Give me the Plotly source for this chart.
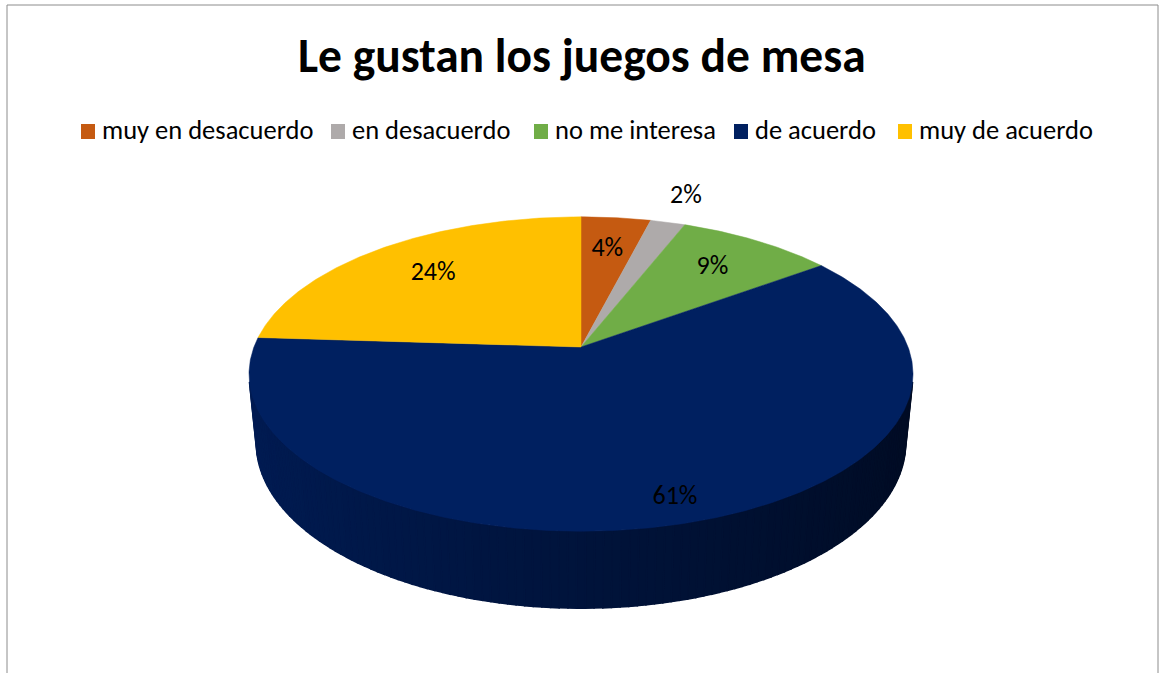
import numpy as np
import plotly.graph_objects as go

# Survey answers and their shares (%)
categories = ["muy en desacuerdo", "en desacuerdo", "no me interesa", "de acuerdo", "muy de acuerdo"]
percentages = [4, 2, 9, 61, 24]
colors = ["#C55A11", "#AEAAAA", "#70AD47", "#002060", "#FFC000"]
title_text = "Le gustan los juegos de mesa"

W, H = 1162, 673
FONT = "Carlito, Lato, sans-serif"

# Perspective view of the pie disc (screen pixels on the axes)
CX, CY = 581, 347          # projected disc centre
TILT = np.radians(27.8)    # camera elevation
DIST = 5.14                # camera distance in disc radii
FOCAL = 1681               # focal length in px
THICK = 0.24               # disc thickness in radii

# radial position of each percentage label (fraction of radius)
label_radius = [0.72, 1.25, 0.72, 0.88, 0.72]


def project(phi_deg, r=1.0, y=0.0):
    """Angle clockwise from the far edge -> screen position."""
    phi = np.radians(phi_deg)
    u = r * np.sin(phi)
    v = r * np.cos(phi)
    depth = DIST - y * np.sin(TILT) + v * np.cos(TILT)
    ycam = v * np.sin(TILT) + y * np.cos(TILT)
    return CX + FOCAL * u / depth, CY - FOCAL * ycam / depth


def shade(hex_color, f):
    h = hex_color.lstrip("#")
    r, g, b = (int(h[i:i + 2], 16) for i in (0, 2, 4))
    return f"rgb({int(r * f)},{int(g * f)},{int(b * f)})"


def side_factor(angle):
    # light from the left: the right-hand wall is darkest
    return 0.62 - 0.25 * np.sin(np.radians(angle))


total = sum(percentages)
bounds = np.concatenate([[0], np.cumsum(percentages) / total * 360.0])

fig = go.Figure()

# ---- visible side wall (front-facing part of the cylinder) ----
lim = np.degrees(np.arccos(-1.0 / (DIST * np.cos(TILT))))
side_angles = np.linspace(lim, 360 - lim, 120)
side_angles = np.unique(np.concatenate([side_angles,
                                        [b for b in bounds if lim < b < 360 - lim]]))

# one solid underlay per slice so the gradient strips leave no gaps
for k, (a0, a1) in enumerate(zip(bounds[:-1], bounds[1:])):
    s0, s1 = max(a0, lim), min(a1, 360 - lim)
    if s1 <= s0:
        continue
    arc = np.linspace(s0, s1, 200)
    xt, yt = project(arc)
    xb, yb = project(arc[::-1], y=-THICK)
    col = shade(colors[k], side_factor(0.5 * (s0 + s1)))
    fig.add_trace(go.Scatter(
        x=np.concatenate([xt, xb, xt[:1]]), y=np.concatenate([yt, yb, yt[:1]]),
        mode="lines", fill="toself", fillcolor=col, line=dict(color=col, width=0),
        hoverinfo="skip", showlegend=False))

for a0, a1 in zip(side_angles[:-1], side_angles[1:]):
    mid = 0.5 * (a0 + a1)
    k = int(np.searchsorted(bounds, mid) - 1)
    col = shade(colors[k], side_factor(mid))
    xt0, yt0 = project(a0)
    xt1, yt1 = project(a1)
    xb1, yb1 = project(a1, y=-THICK)
    xb0, yb0 = project(a0, y=-THICK)
    fig.add_trace(go.Scatter(
        x=[xt0, xt1, xb1, xb0, xt0], y=[yt0, yt1, yb1, yb0, yt0],
        mode="lines", fill="toself", fillcolor=col,
        line=dict(color=col, width=1.5), hoverinfo="skip", showlegend=False))

# ---- top faces of the slices ----
for k, (a0, a1) in enumerate(zip(bounds[:-1], bounds[1:])):
    arc = np.linspace(a0, a1, max(3, int((a1 - a0) * 2)))
    xs, ys = project(arc)
    x = np.concatenate([[CX], xs, [CX]])
    y = np.concatenate([[CY], ys, [CY]])
    fig.add_trace(go.Scatter(
        x=x, y=y, mode="lines", fill="toself", fillcolor=colors[k],
        line=dict(color=colors[k], width=0.5), hoverinfo="skip",
        name=categories[k], showlegend=False))

# ---- percentage labels ----
mids = 0.5 * (bounds[:-1] + bounds[1:])
lx, ly = zip(*[project(m, r) for m, r in zip(mids, label_radius)])
fig.add_trace(go.Scatter(
    x=list(lx), y=list(ly), mode="text",
    text=[f"{p}%" for p in percentages],
    textfont=dict(family=FONT, size=26, color="#000000"),
    hoverinfo="skip", showlegend=False))

# ---- legend row ----
legend_square_x = [81, 331, 534, 734, 898]
shapes = []
annotations = []
for k, cat in enumerate(categories):
    x0 = legend_square_x[k]
    shapes.append(dict(type="rect", xref="x", yref="y", x0=x0, x1=x0 + 14,
                       y0=124, y1=139, fillcolor=colors[k], line=dict(width=0)))
    annotations.append(dict(x=x0 + 19, y=130, xref="x", yref="y", text=cat,
                            showarrow=False, xanchor="left", yanchor="middle",
                            font=dict(family=FONT, size=26.5, color="#000000")))

# title
annotations.append(dict(x=582, y=56, xref="x", yref="y", text=f"<b>{title_text}</b>",
                        showarrow=False, xanchor="center", yanchor="middle",
                        font=dict(family=FONT, size=47.5, color="#000000")))

# chart frame
shapes.append(dict(type="rect", xref="x", yref="y", x0=7, x1=1158, y0=5, y1=690,
                   line=dict(color="#8C8C8C", width=1), fillcolor="rgba(0,0,0,0)",
                   layer="below"))

fig.update_layout(
    width=W, height=H, autosize=False,
    margin=dict(l=0, r=0, t=0, b=0),
    paper_bgcolor="white", plot_bgcolor="white",
    xaxis=dict(range=[0, W], visible=False, fixedrange=True),
    yaxis=dict(range=[H, 0], visible=False, fixedrange=True),
    shapes=shapes, annotations=annotations,
    showlegend=False,
)

fig.write_html("out.html")
